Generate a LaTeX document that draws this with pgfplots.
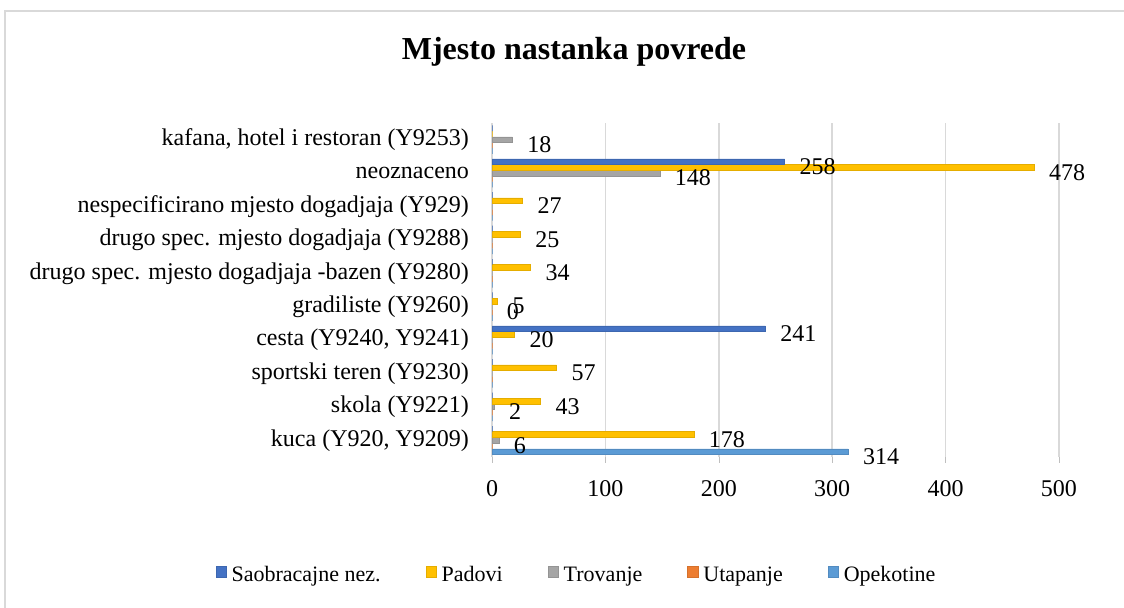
\documentclass[border=0pt]{standalone}
\usepackage{fontspec}
\setmainfont{Liberation Serif}
\usepackage{pgfplots}
\pgfplotsset{compat=1.18}
\definecolor{cSaob}{HTML}{4472C4}
\definecolor{cPad}{HTML}{FFC000}
\definecolor{cTro}{HTML}{A5A5A5}
\definecolor{cUta}{HTML}{ED7D31}
\definecolor{cOpe}{HTML}{5B9BD5}
\begin{document}
\begin{tikzpicture}
\useasboundingbox (0pt,0pt) rectangle (562pt,304pt);
\draw[black!15, line width=1.2pt] (2.5pt,-20pt) -- (2.5pt,298.5pt) -- (600pt,298.5pt);
\node[font=\fontsize{16}{19}\selectfont\bfseries] at (287pt,278pt) {Mjesto nastanka povrede};
\begin{axis}[
  at={(246pt,75.5pt)}, anchor=south west,
  scale only axis, width=283.5pt, height=167pt,
  xbar=0pt, bar width=2.85pt,
  xmin=0, xmax=500, ymin=-0.5, ymax=9.5,
  ytick={0,...,9},
  yticklabels={kuca (Y920{,} Y9209), skola (Y9221), sportski teren (Y9230), cesta (Y9240{,} Y9241), gradiliste (Y9260), drugo spec. mjesto dogadjaja -bazen (Y9280), drugo spec. mjesto dogadjaja (Y9288), nespecificirano mjesto dogadjaja (Y929), neoznaceno, {kafana, hotel i restoran (Y9253)}},
  xtick={0,100,...,500},
  /pgf/number format/assume math mode=true,
  ticklabel style={font=\fontsize{12}{14}\selectfont},
  xticklabel style={yshift=-5pt},
  yticklabel style={xshift=-5pt},
  axis line style={draw=none},
  tick align=outside, major tick length=3pt,
  xtick pos=bottom, ytick pos=left,
  xtick style={draw=black!25},
  ytick style={draw=none},
  xmajorgrids, major grid style={draw=black!15, line width=0.8pt},
  point meta=explicit symbolic,
  nodes near coords,
  nodes near coords style={anchor=west, xshift=4pt, yshift=-2.5pt, font=\fontsize{12}{14}\selectfont, text=black},
  legend columns=5,
  reverse legend,
  legend style={draw=none, at={(0.1517,-0.356)}, anchor=center, font=\fontsize{11}{13}\selectfont,
    nodes={text height=7.6pt, text depth=2.4pt, inner xsep=2.5pt},
    /tikz/every even column/.append style={column sep=20pt}},
  legend image code/.code={\fill[#1] (0pt,-0.9pt) rectangle (5.2pt,4.9pt);},
]
\addplot[draw=cOpe!90!black, fill=cOpe, line width=0.3pt] coordinates {
 (314,0) [314] (0,1) [] (0,2) [] (0,3) [] (0,4) [] (0,5) [] (0,6) [] (0,7) [] (0,8) [] (0,9) []};
\addplot[draw=cUta!90!black, fill=cUta, line width=0.3pt] coordinates {
 (0,0) [] (0,1) [] (0,2) [] (0,3) [] (0,4) [] (0,5) [] (0,6) [] (0,7) [] (0,8) [] (0,9) []};
\addplot[draw=cTro!90!black, fill=cTro, line width=0.3pt] coordinates {
 (6,0) [6] (2,1) [2] (0,2) [] (0,3) [] (0,4) [0] (0,5) [] (0,6) [] (0,7) [] (148,8) [148] (18,9) [18]};
\addplot[draw=cPad!90!black, fill=cPad, line width=0.3pt] coordinates {
 (178,0) [178] (43,1) [43] (57,2) [57] (20,3) [20] (5,4) [5] (34,5) [34] (25,6) [25] (27,7) [27] (478,8) [478] (0,9) []};
\addplot[draw=cSaob!90!black, fill=cSaob, line width=0.3pt] coordinates {
 (0,0) [] (0,1) [] (0,2) [] (241,3) [241] (0,4) [] (0,5) [] (0,6) [] (0,7) [] (258,8) [258] (0,9) []};
\legend{Opekotine, Utapanje, Trovanje, Padovi, Saobracajne nez.}
\end{axis}
\end{tikzpicture}
\end{document}
